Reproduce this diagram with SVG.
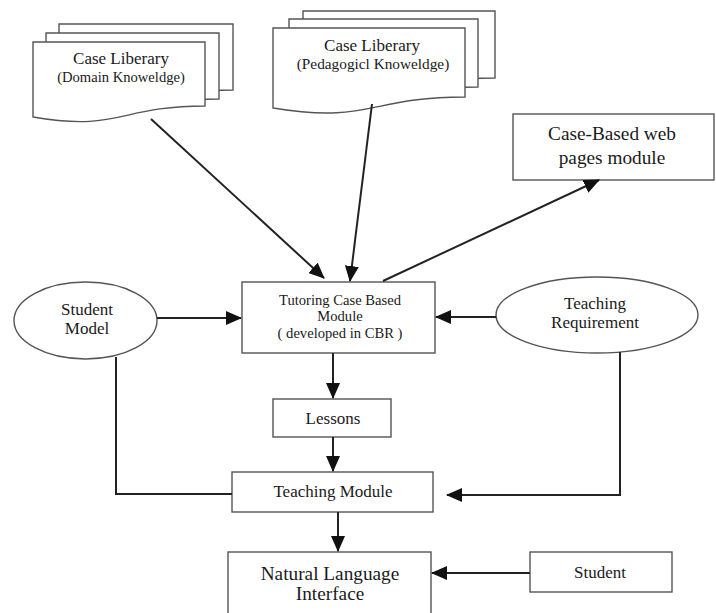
<svg xmlns="http://www.w3.org/2000/svg" width="716" height="613" viewBox="0 0 716 613">
  <style>
    .shape { fill: #ffffff; stroke: #555555; stroke-width: 1.4; }
    .wire { fill: none; stroke: #222222; stroke-width: 2; }
    .arrow { fill: none; stroke: #222222; stroke-width: 2; marker-end: url(#head); }
    .lbl { fill: #1a1a1a; text-anchor: middle; }
    .t14 { font-size: 14.6px; }
    .t15 { font-size: 15.3px; }
    .t17 { font-size: 17px; }
    .t19 { font-size: 19.3px; }
  </style>
  <defs>
    <marker id="head" markerUnits="userSpaceOnUse" markerWidth="16" markerHeight="14" refX="15" refY="7" orient="auto">
      <path d="M0,0 L16,7 L0,14 Z" fill="#111111"/>
    </marker>
  </defs>

  <g font-family="'Liberation Serif', Tinos, 'DejaVu Serif', 'Noto Serif', serif">
  <!-- Case library: domain knowledge (stacked documents) -->
  <g id="case-library-domain">
    <path class="shape" d="M59,24 H233 V90 C146,90 146,115 59,100 Z"/>
    <path class="shape" d="M46,33 H219 V99 C132,99 132,124 46,109 Z"/>
    <path class="shape" d="M33,42 H205 V106 C119,106 119,132 33,117 Z"/>
    <text class="lbl t17" x="121" y="64">Case Liberary</text>
    <text class="lbl t14" x="121" y="82">(Domain Knoweldge)</text>
  </g>

  <!-- Case library: pedagogical knowledge (stacked documents) -->
  <g id="case-library-pedagogic">
    <path class="shape" d="M303,11 H495 V78 C399,78 399,104 303,89 Z"/>
    <path class="shape" d="M289,19 H478 V87 C383,87 383,113 289,98 Z"/>
    <path class="shape" d="M273,28 H465 V97 C369,97 369,124 273,108 Z"/>
    <text class="lbl t17" x="372" y="51">Case Liberary</text>
    <text class="lbl t15" x="373" y="69">(Pedagogicl Knoweldge)</text>
  </g>

  <g id="web-pages-module">
    <rect class="shape" x="513" y="114" width="201" height="66"/>
    <text class="lbl t19" x="612" y="140">Case-Based web</text>
    <text class="lbl t19" x="612" y="164">pages module</text>
  </g>

  <g id="tutoring-module">
    <rect class="shape" x="242" y="282" width="193" height="71"/>
    <text class="lbl t14" x="340" y="305">Tutoring Case Based</text>
    <text class="lbl t14" x="340" y="321">Module</text>
    <text class="lbl t14" x="340" y="338">( developed in CBR )</text>
  </g>

  <g id="student-model">
    <ellipse class="shape" cx="85.5" cy="320.5" rx="71.5" ry="38.5"/>
    <text class="lbl t17" x="87" y="315">Student</text>
    <text class="lbl t17" x="87" y="334">Model</text>
  </g>

  <g id="teaching-requirement">
    <ellipse class="shape" cx="597" cy="315" rx="101" ry="38"/>
    <text class="lbl t17" x="595" y="309">Teaching</text>
    <text class="lbl t17" x="595" y="328">Requirement</text>
  </g>

  <g id="lessons">
    <rect class="shape" x="273" y="399" width="118" height="38"/>
    <text class="lbl t17" x="333" y="424">Lessons</text>
  </g>

  <g id="teaching-module">
    <rect class="shape" x="232" y="472" width="201" height="40"/>
    <text class="lbl t17" x="333" y="497">Teaching Module</text>
  </g>

  <g id="natural-language-interface">
    <rect class="shape" x="228" y="552" width="203" height="70"/>
    <text class="lbl t19" x="330" y="580">Natural Language</text>
    <text class="lbl t19" x="330" y="600">Interface</text>
  </g>

  <g id="student">
    <rect class="shape" x="530" y="552" width="142" height="40"/>
    <text class="lbl t17" x="600" y="578">Student</text>
  </g>
  </g>

  <!-- Connectors -->
  <g id="connectors">
    <line class="arrow" x1="151" y1="119" x2="324" y2="278"/>
    <line class="arrow" x1="372" y1="104" x2="350" y2="281"/>
    <line class="arrow" x1="383" y1="281" x2="599" y2="180"/>
    <line class="arrow" x1="157" y1="318" x2="241" y2="318"/>
    <line class="arrow" x1="496" y1="317" x2="436" y2="317"/>
    <line class="arrow" x1="333" y1="353" x2="333" y2="398"/>
    <line class="arrow" x1="333" y1="437" x2="333" y2="471"/>
    <polyline class="wire" points="116,357 116,494 232,494"/>
    <polyline class="arrow" points="620,352 620,495 447,495"/>
    <line class="arrow" x1="338" y1="512" x2="338" y2="551"/>
    <line class="arrow" x1="530" y1="573" x2="432" y2="573"/>
  </g>
</svg>
